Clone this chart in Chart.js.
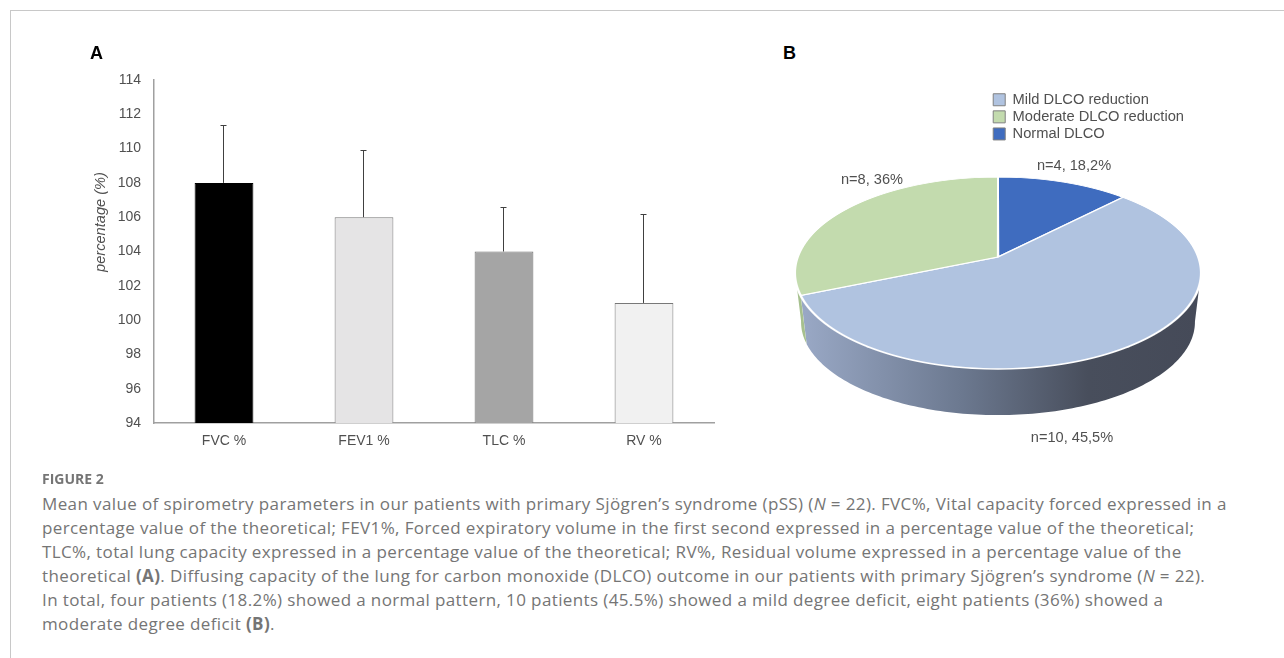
<!DOCTYPE html>
<html><head><meta charset="utf-8">
<script src="https://cdn.jsdelivr.net/npm/chart.js@4"></script>
<style>
html,body{margin:0;padding:0;background:#fff;width:1284px;height:658px;overflow:hidden}
#frame{position:absolute;left:10px;top:10px;width:1274px;height:648px;border-left:1px solid #c8c8c8;border-top:1px solid #c8c8c8}
canvas{position:absolute}
.p{position:absolute;font:bold 18px "Liberation Sans",Arial,sans-serif;color:#000}
#fig{position:absolute;left:42px;top:469px;font:bold 14px "Open Sans",sans-serif;color:#757575}
#cap{position:absolute;left:42px;top:492px;font:17px/23.9px "Open Sans",sans-serif;letter-spacing:.38px;color:#757575;white-space:nowrap}
</style></head><body>
<div id="frame"></div>
<canvas id="bar" style="left:0;top:0"></canvas>
<canvas id="pie" style="left:780px;top:70px"></canvas>
<div class="p" style="left:90px;top:43px">A</div>
<div class="p" style="left:783px;top:43px">B</div>
<div id="fig">FIGURE 2</div>
<div id="cap">Mean value of spirometry parameters in our patients with primary Sjögren’s syndrome (pSS) (<i>N</i> = 22). FVC%, Vital capacity forced expressed in a<br>percentage value of the theoretical; FEV1%, Forced expiratory volume in the first second expressed in a percentage value of the theoretical;<br>TLC%, total lung capacity expressed in a percentage value of the theoretical; RV%, Residual volume expressed in a percentage value of the<br>theoretical <b>(A)</b>. Diffusing capacity of the lung for carbon monoxide (DLCO) outcome in our patients with primary Sjögren’s syndrome (<i>N</i> = 22).<br>In total, four patients (18.2%) showed a normal pattern, 10 patients (45.5%) showed a mild degree deficit, eight patients (36%) showed a<br>moderate degree deficit <b>(B)</b>.</div>
<script>
const barCategories = ["FVC %", "FEV1 %", "TLC %", "RV %"];
const barMeans = [108, 106, 104, 101];
const barErrorTops = [111.4, 109.9, 106.6, 106.2];
const barColors = ["#000000", "#e5e4e5", "#a5a5a5", "#f1f1f1"];
const barBorders = ["#000000", "#787878", "#707070", "#787878"];
const yAxisTitle = "percentage (%)";
const pieCategories = ["Normal DLCO", "Mild DLCO reduction", "Moderate DLCO reduction"];
// Slice sizes as drawn in the picture (they differ from the printed n and % labels)
const pieDrawnShares = [12.3, 56.4, 31.3];
const pieLabels = ["n=4, 18,2%", "n=10, 45,5%", "n=8, 36%"];
const pieColors = ["#3f6cbf", "#b0c3e0", "#c3dbae"];
const legendOrder = [1, 2, 0];
const FONT = '"Liberation Sans",Arial,sans-serif';
const INK = "#505050";

const errorBars = {
  id: "errorBars",
  afterDatasetsDraw(chart) {
    const c = chart.ctx, y = chart.scales.y;
    c.save(); c.strokeStyle = "#404040"; c.lineWidth = 1;
    chart.getDatasetMeta(0).data.forEach((b, i) => {
      const x = Math.round(b.x) - .5, t = Math.round(y.getPixelForValue(barErrorTops[i])) + .5;
      c.beginPath(); c.moveTo(x, b.y); c.lineTo(x, t);
      c.moveTo(x - 3, t); c.lineTo(x + 3, t); c.stroke();
    });
    c.restore();
    c.save(); c.translate(101, 222); c.rotate(-Math.PI / 2);
    c.font = "italic 14.6px " + FONT; c.fillStyle = INK; c.textAlign = "center"; c.textBaseline = "middle";
    c.fillText(yAxisTitle, 0, 0); c.restore();
  }
};
const barCv = document.getElementById("bar");
barCv.width = 760; barCv.height = 480;
new Chart(barCv, {
  type: "bar",
  data: { labels: barCategories, datasets: [{ data: barMeans, backgroundColor: barColors, borderColor: barBorders, borderWidth: 1, barPercentage: .42, categoryPercentage: 1 }] },
  options: {
    responsive: false, animation: false,
    layout: { padding: { left: 90, top: 80, right: 46, bottom: 22 } },
    plugins: { legend: { display: false }, tooltip: { enabled: false } },
    scales: {
      x: { afterFit(s) { s.height = 35; }, grid: { display: false, drawTicks: false }, border: { color: "#a0a0a0", width: 1.5 },
           ticks: { color: INK, font: { family: FONT, size: 14 }, padding: 10 } },
      y: { min: 94, max: 114, afterFit(s) { s.width = 64; }, grid: { display: false, drawTicks: false }, border: { color: "#a0a0a0", width: 1.5 },
           ticks: { stepSize: 2, color: INK, font: { family: FONT, size: 14 }, padding: 13 } }
    }
  },
  plugins: [errorBars]
});

// Perspective projection of the flat pie onto the tilted disc
const AX = 218, AY = 187;            // apex inside the canvas
const K = 1 / 6, A = 93.33, B = 200.2;
const invY = d => d / (A + K * d);
const depth3D = { shrink: .97, cy: 252, topCy: 203 };

const pie3D = {
  id: "pie3D",
  beforeDatasetDraw(chart, args) {
    const c = chart.ctx, meta = args.meta;
    const first = meta.data[0], R = first.outerRadius, cx0 = first.x, cy0 = first.y;
    const grad = c.createLinearGradient(20, 0, 420, 0);
    grad.addColorStop(0, "#9aa9c6"); grad.addColorStop(.4, "#6c7990");
    grad.addColorStop(.72, "#484e5c"); grad.addColorStop(1, "#454a58");
    const sideFill = [ "#3a5a9a", grad, "#a6c08e" ];
    meta.data.forEach((el, i) => {
      const pts = [], low = [];
      for (let a = el.startAngle; a <= el.endAngle + 1e-6; a += .02) {
        const u = Math.cos(a), v = Math.sin(a), w = 1 - K * v;
        const px = AX + B * u / w, py = AY + A * v / w;
        if (py < AY + 14) continue;
        pts.push([px, py]);
        low.push([AX + (px - AX) * depth3D.shrink, depth3D.cy + (py - depth3D.topCy) * depth3D.shrink]);
      }
      if (!pts.length) return;
      c.beginPath();
      pts.forEach((p, j) => j ? c.lineTo(p[0], p[1]) : c.moveTo(p[0], p[1]));
      low.reverse().forEach(p => c.lineTo(p[0], p[1]));
      c.closePath(); c.fillStyle = sideFill[i]; c.fill();
    });
    for (let row = -84; row < 116; row++) {
      const v = invY(row + .5), w = 1 - K * v;
      const v0 = invY(row), v1 = invY(row + 1);
      const sx = B / w / R, sy = 1 / (v1 - v0) / R;
      c.save();
      c.beginPath(); c.rect(0, AY + row, chart.width, 1); c.clip();
      c.setTransform(sx, 0, 0, sy, AX - cx0 * sx, AY + row - v0 * R * sy - cy0 * sy);
      meta.controller.draw();
      c.restore();
    }
    return false;
  },
  afterDatasetsDraw(chart) {
    const c = chart.ctx;
    const at = [[294, 96], [292, 368], [92, 110]];
    c.save(); c.font = "14.6px " + FONT; c.fillStyle = INK; c.textAlign = "center"; c.textBaseline = "middle";
    pieLabels.forEach((t, i) => c.fillText(t, at[i][0], at[i][1]));
    c.restore();
  }
};
const pieCv = document.getElementById("pie");
pieCv.width = 504; pieCv.height = 380;
new Chart(pieCv, {
  type: "pie",
  data: { labels: pieCategories, datasets: [{ data: pieDrawnShares, backgroundColor: pieColors, borderColor: "#ffffff", borderWidth: 1.2 }] },
  options: {
    responsive: false, animation: false,
    layout: { padding: { top: 20, right: 90, bottom: 120 } },
    plugins: {
      tooltip: { enabled: false },
      legend: { position: "right", align: "start",
        labels: { boxWidth: 12, boxHeight: 12, padding: 2.4, color: INK, font: { family: FONT, size: 14.7 },
          generateLabels(ch) {
            return legendOrder.map(i => ({ text: pieCategories[i], fillStyle: pieColors[i], strokeStyle: "#808080", fontColor: INK, lineWidth: 1, index: i }));
          } } }
    }
  },
  plugins: [pie3D]
});
</script>
</body></html>
